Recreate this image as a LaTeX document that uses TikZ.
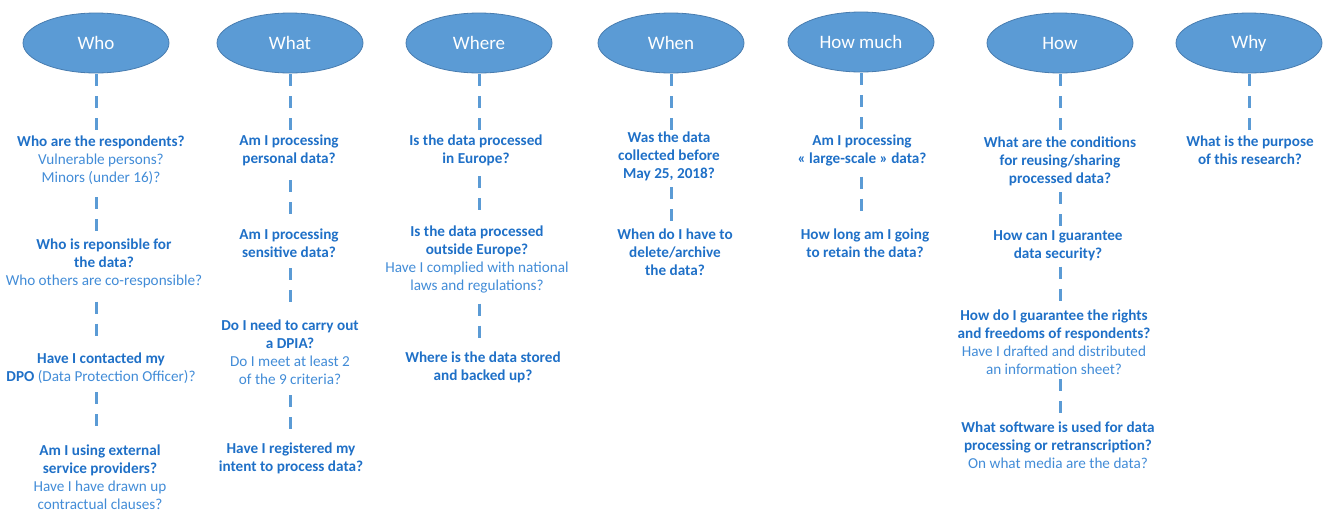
\documentclass[tikz,border=0pt]{standalone}
\usepackage{fontspec}
\setmainfont{Carlito}
\usetikzlibrary{shapes.geometric}

\definecolor{ovalblue}{RGB}{91,155,213}
\definecolor{ovaledge}{RGB}{72,124,175}
\definecolor{askblue}{RGB}{31,112,199}
\definecolor{subblue}{RGB}{66,140,215}

\newcommand{\askq}[1]{{\bfseries\color{askblue}#1}}
\newcommand{\subq}[1]{{\color{subblue}#1}}

\tikzset{
  oval/.style={ellipse, fill=ovalblue, draw=ovaledge, line width=0.8pt,
    minimum width=146pt, minimum height=60pt, inner sep=0pt,
    text=white, font=\fontsize{19}{22}\selectfont},
  question/.style={anchor=north, align=center, inner sep=0pt,
    font=\fontsize{15.2}{18}\selectfont},
  link/.style={draw=ovalblue, line width=3pt,
    dash pattern=on 12pt off 10pt on 12pt off 10pt on 12pt off 200pt,
    shorten <=1pt},
  sublink/.style={draw=ovalblue, line width=3pt,
    dash pattern=on 12pt off 10pt on 12pt off 200pt, shorten <=6pt}
}

\begin{document}
\begin{tikzpicture}[x=1pt,y=-1pt]
\useasboundingbox (0,0) rectangle (1327,515);

% Draw headers
\node[oval] (who)     at (96,43)   {Who};
\node[oval] (what)    at (290,43)  {What};
\node[oval] (where)   at (479,43)  {Where};
\node[oval] (when)    at (671,43)  {When};
\node[oval] (howmuch) at (861,42)  {How much};
\node[oval] (how)     at (1060,43) {How};
\node[oval] (why)     at (1249,43) {Why};

% Who
\node[question] (who1) at (101,136) {\askq{Who are the respondents?}\\
  \subq{Vulnerable persons?}\\ \subq{Minors (under 16)?}};
\node[question] (who2) at (104,239) {\askq{Who is reponsible for}\\
  \askq{the data?}\\ \subq{Who others are co-responsible?}};
\node[question] (who3) at (101,353) {\askq{Have I contacted my}\\
  \askq{DPO} \subq{(Data Protection Officer)?}};
\node[question] (who4) at (100,445) {\askq{Am I using external}\\
  \askq{service providers?}\\ \subq{Have I have drawn up}\\ \subq{contractual clauses?}};

% What
\node[question] (what1) at (289,135) {\askq{Am I processing}\\ \askq{personal data?}};
\node[question] (what2) at (289,229) {\askq{Am I processing}\\ \askq{sensitive data?}};
\node[question] (what3) at (290,320) {\askq{Do I need to carry out}\\
  \askq{a DPIA?}\\ \subq{Do I meet at least 2}\\ \subq{of the 9 criteria?}};
\node[question] (what4) at (291,443) {\askq{Have I registered my}\\
  \askq{intent to process data?}};

% Where
\node[question] (where1) at (476,135) {\askq{Is the data processed}\\ \askq{in Europe?}};
\node[question] (where2) at (477,226) {\askq{Is the data processed}\\
  \askq{outside Europe?}\\ \subq{Have I complied with national}\\ \subq{laws and regulations?}};
\node[question] (where3) at (483,352) {\askq{Where is the data stored}\\
  \askq{and backed up?}};

% When
\node[question] (when1) at (669,132) {\askq{Was the data}\\
  \askq{collected before}\\ \askq{May 25, 2018?}};
\node[question] (when2) at (675,229) {\askq{When do I have to}\\
  \askq{delete/archive}\\ \askq{the data?}};

% How much
\node[question] (howmuch1) at (862,135) {\askq{Am I processing}\\
  \askq{« large-scale » data?}};
\node[question] (howmuch2) at (865,229) {\askq{How long am I going}\\
  \askq{to retain the data?}};

% How
\node[question] (how1) at (1060,137) {\askq{What are the conditions}\\
  \askq{for reusing/sharing}\\ \askq{processed data?}};
\node[question] (how2) at (1058,230) {\askq{How can I guarantee}\\ \askq{data security?}};
\node[question] (how3) at (1054,310) {\askq{How do I guarantee the rights}\\
  \askq{and freedoms of respondents?}\\ \subq{Have I drafted and distributed}\\
  \subq{an information sheet?}};
\node[question] (how4) at (1058,422) {\askq{What software is used for data}\\
  \askq{processing or retranscription?}\\ \subq{On what media are the data?}};

% Why
\node[question] (why1) at (1250,136) {\askq{What is the purpose}\\ \askq{of this research?}};

% Draw dashed links
\draw[link] (who.south) -- (who.south |- who1.north);
\draw[sublink,shorten <=12pt] (who.south |- who1.south) -- (who.south |- who2.north);
\draw[sublink,shorten <=13pt] (who.south |- who2.south) -- (who.south |- who3.north);
\draw[sublink,shorten <=8pt] (who.south |- who3.south) -- (who.south |- who4.north);

\draw[link] (what.south) -- (what.south |- what1.north);
\draw[sublink,shorten <=14pt] (what.south |- what1.south) -- (what.south |- what2.north);
\draw[sublink,shorten <=10pt] (what.south |- what2.south) -- (what.south |- what3.north);
\draw[sublink,shorten <=10pt] (what.south |- what3.south) -- (what.south |- what4.north);

\draw[link] (where.south) -- (where.south |- where1.north);
\draw[sublink,shorten <=10pt] (where.south |- where1.south) -- (where.south |- where2.north);
\draw[sublink,shorten <=10pt] (where.south |- where2.south) -- (where.south |- where3.north);

\draw[link] (when.south) -- (when.south |- when1.north);
\draw[sublink] (when.south |- when1.south) -- (when.south |- when2.north);

\draw[link] (howmuch.south) -- (howmuch.south |- howmuch1.north);
\draw[sublink,shorten <=10pt] (howmuch.south |- howmuch1.south) -- (howmuch.south |- howmuch2.north);

\draw[link] (how.south) -- (how.south |- how1.north);
\draw[sublink] (how.south |- how1.south) -- (how.south |- how2.north);
\draw[sublink] (how.south |- how2.south) -- (how.south |- how3.north);
\draw[sublink,shorten <=4pt] (how.south |- how3.south) -- (how.south |- how4.north);

\draw[link] (why.south) -- (why.south |- why1.north);
\end{tikzpicture}
\end{document}
